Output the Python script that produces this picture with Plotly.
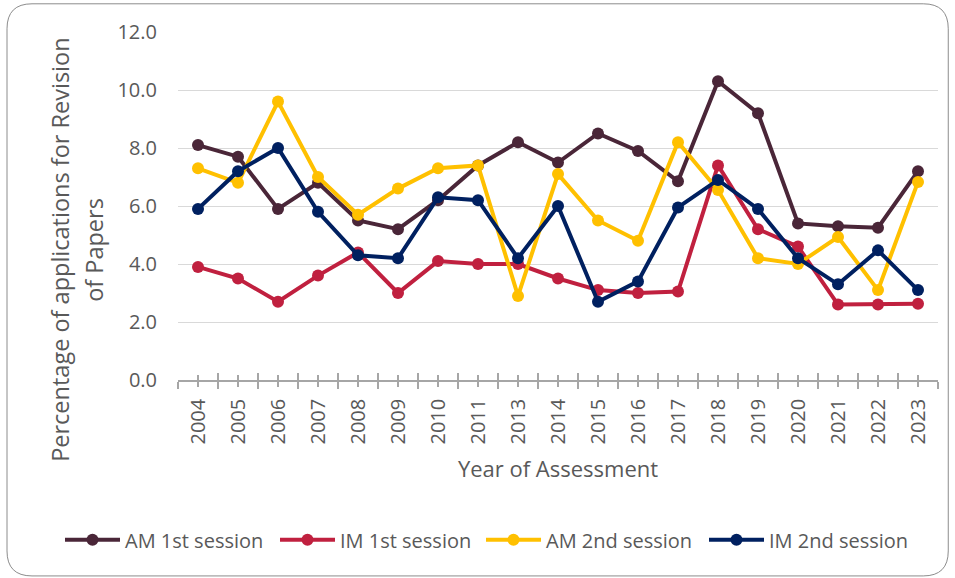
import plotly.graph_objects as go

years = ["2004", "2005", "2006", "2007", "2008", "2009", "2010", "2011", "2013", "2014",
         "2015", "2016", "2017", "2018", "2019", "2020", "2021", "2022", "2023"]
am_1st = [8.1, 7.7, 5.9, 6.8, 5.5, 5.2, 6.2, 7.4, 8.2, 7.5,
          8.5, 7.9, 6.85, 10.3, 9.2, 5.4, 5.3, 5.25, 7.2]
im_1st = [3.9, 3.5, 2.7, 3.6, 4.4, 3.0, 4.1, 4.0, 4.0, 3.5,
          3.1, 3.0, 3.05, 7.4, 5.2, 4.6, 2.6, 2.6, 2.63]
am_2nd = [7.3, 6.8, 9.6, 7.0, 5.7, 6.6, 7.3, 7.4, 2.9, 7.1,
          5.5, 4.8, 8.2, 6.55, 4.2, 4.0, 4.93, 3.1, 6.83]
im_2nd = [5.9, 7.2, 8.0, 5.8, 4.3, 4.2, 6.3, 6.2, 4.2, 6.0,
          2.7, 3.4, 5.95, 6.9, 5.9, 4.2, 3.3, 4.47, 3.1]

series = [
    ("AM 1st session", am_1st, "#4A2638"),
    ("IM 1st session", im_1st, "#C0203F"),
    ("AM 2nd session", am_2nd, "#FFC000"),
    ("IM 2nd session", im_2nd, "#002060"),
]

text_color = "#595959"
grid_color = "#D9D9D9"
axis_color = "#A6A6A6"
font_family = "Open Sans, Calibri, sans-serif"

# each legend entry gets its own legend box so the row does not wrap
legend_ids = ["legend", "legend2", "legend3", "legend4"]
legend_x = [60, 275, 481, 704]

x_idx = list(range(len(years)))

fig = go.Figure()
for (name, values, color), leg in zip(series, legend_ids):
    fig.add_trace(
        go.Scatter(
            x=x_idx,
            y=values,
            mode="lines+markers",
            name=name,
            legend=leg,
            line=dict(color=color, width=4),
            marker=dict(color=color, size=12),
        )
    )

# rounded chart border, in paper coordinates
x0, x1, y0, y1 = -0.225, 1.0135, -0.563, 1.081
rx, ry = 25 / 760, 25 / 348
border = (
    f"M {x0 + rx},{y1} L {x1 - rx},{y1} Q {x1},{y1} {x1},{y1 - ry} "
    f"L {x1},{y0 + ry} Q {x1},{y0} {x1 - rx},{y0} "
    f"L {x0 + rx},{y0} Q {x0},{y0} {x0},{y0 + ry} "
    f"L {x0},{y1 - ry} Q {x0},{y1} {x0 + rx},{y1} Z"
)

tick_common = dict(
    range=[-0.5, len(years) - 0.5],
    tickvals=x_idx,
    showgrid=False,
    zeroline=False,
    tickcolor=axis_color,
    tickwidth=1.5,
    ticklen=5,
)

legend_style = dict(
    orientation="h",
    xref="container",
    xanchor="left",
    yref="container",
    y=0.066,
    yanchor="middle",
    font=dict(size=20, color=text_color),
    itemwidth=55,
    bgcolor="rgba(0,0,0,0)",
)
legends = {
    leg: dict(legend_style, x=px / 955) for leg, px in zip(legend_ids, legend_x)
}

fig.update_layout(
    width=955,
    height=578,
    margin=dict(l=178, r=17, t=32, b=198),
    paper_bgcolor="white",
    plot_bgcolor="white",
    font=dict(family=font_family, size=20, color=text_color),
    shapes=[
        dict(type="path", path=border, xref="paper", yref="paper",
             line=dict(color="#8C8C8C", width=1), layer="below"),
    ],
    xaxis=dict(
        **tick_common,
        ticktext=years,
        tickangle=-90,
        showline=True,
        linecolor=axis_color,
        linewidth=1.5,
        ticks="outside",
        minor=dict(dtick=1, tick0=-0.5, ticks="outside", ticklen=7,
                   tickcolor=axis_color, tickwidth=1.5),
        ticklabelstandoff=4,
        tickfont=dict(size=20, color=text_color),
        title=dict(text="Year of Assessment", font=dict(size=22, color=text_color), standoff=18),
    ),
    # second x axis only to draw the upper half of the crossing tick marks
    xaxis2=dict(
        **tick_common,
        overlaying="x",
        anchor="y",
        side="bottom",
        showline=False,
        ticks="inside",
        showticklabels=False,
        minor=dict(dtick=1, tick0=-0.5, ticks="inside", ticklen=7,
                   tickcolor=axis_color, tickwidth=1.5),
    ),
    yaxis=dict(
        range=[0, 12],
        dtick=2,
        tickformat=".1f",
        showgrid=True,
        gridcolor=grid_color,
        gridwidth=1,
        zeroline=False,
        showline=False,
        ticks="",
        ticklabelstandoff=20,
        tickfont=dict(size=20, color=text_color),
    ),
    annotations=[
        dict(text="Percentage of applications for Revision", textangle=-90,
             xref="paper", yref="paper", x=-0.1553, y=0.374, showarrow=False,
             xanchor="center", yanchor="middle",
             font=dict(size=23.5, color=text_color)),
        dict(text="of Papers", textangle=-90,
             xref="paper", yref="paper", x=-0.1105, y=0.374, showarrow=False,
             xanchor="center", yanchor="middle",
             font=dict(size=23.5, color=text_color)),
    ],
    **legends,
)

# invisible trace so the overlaying axis gets drawn
fig.add_trace(go.Scatter(x=[0], y=[0], xaxis="x2", yaxis="y", mode="markers",
                         marker=dict(opacity=0), showlegend=False, hoverinfo="skip"))

fig.write_html(
    "out.html",
    config={"displayModeBar": False},
    post_script="document.body.style.margin='0px';",
)
